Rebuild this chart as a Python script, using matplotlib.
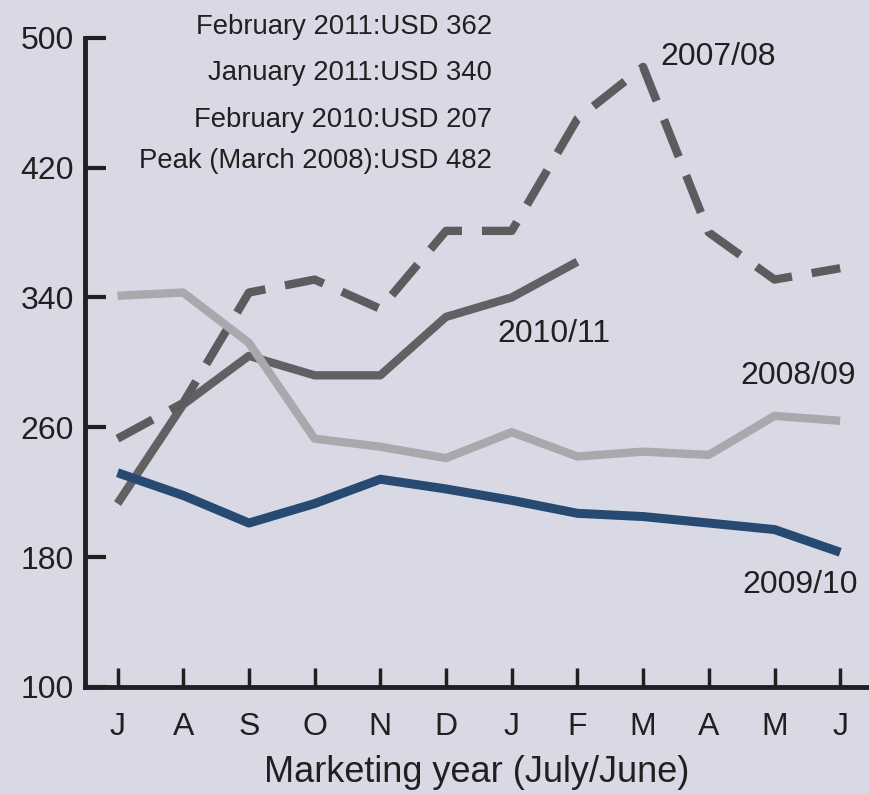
import matplotlib
matplotlib.use('Agg')
import matplotlib.pyplot as plt
from matplotlib import font_manager as fm

months = ['J', 'A', 'S', 'O', 'N', 'D', 'J', 'F', 'M', 'A', 'M', 'J']
s2007_08 = [253, 275, 343, 351, 333, 381, 381, 450, 482, 380, 351, 358]
s2008_09 = [341, 343, 312, 253, 248, 241, 257, 242, 245, 243, 267, 264]
s2009_10 = [232, 218, 201, 213, 228, 222, 215, 207, 205, 201, 197, 183]
s2010_11 = [213, 274, 304, 292, 292, 328, 340, 362]
yticks = [100, 180, 260, 340, 420, 500]
notes = ['February 2011:USD 362', 'January 2011:USD 340',
         'February 2010:USD 207', 'Peak (March 2008):USD 482']

names = {f.name for f in fm.fontManager.ttflist}
fam = 'Liberation Sans Narrow' if 'Liberation Sans Narrow' in names else 'Liberation Sans'
plt.rcParams['font.family'] = [fam, 'DejaVu Sans']

BG = '#d8d9e4'
INK = '#231f20'
W, H = 869, 794
fig = plt.figure(figsize=(W / 100, H / 100), dpi=100, facecolor=BG)

left_px, right_px, top_px, bot_px = 85, 869, 37.7, 687
ax = fig.add_axes([left_px / W, 1 - bot_px / H, (right_px - left_px) / W, (bot_px - top_px) / H])
ax.set_facecolor(BG)

x = list(range(len(months)))
x0 = (left_px - 117.5) / 65.7
x1 = (right_px - 117.5) / 65.7
ax.set_xlim(x0, x1)
ax.set_ylim(100, 500)

ax.plot(x[:len(s2010_11)], s2010_11, color='#616164', lw=6.0, solid_capstyle='butt', zorder=2)
ax.plot(x, s2007_08, color='#5c5c5f', lw=6.0, dashes=(4.8, 2.4), dash_capstyle='butt', zorder=3)
ax.plot(x, s2008_09, color='#a8a9ad', lw=6.0, solid_capstyle='butt', zorder=4)
ax.plot(x, s2009_10, color='#284a72', lw=6.5, solid_capstyle='butt', zorder=5)

for s in ['top', 'right']:
    ax.spines[s].set_visible(False)
for s in ['left', 'bottom']:
    ax.spines[s].set_linewidth(3.5)
    ax.spines[s].set_color(INK)
ax.spines['left'].set_bounds(100, 500)

ax.set_yticks(yticks)
ax.set_yticklabels([str(v) for v in yticks])
ax.set_xticks(x)
ax.set_xticklabels(months)
ax.tick_params(axis='y', direction='in', length=15, width=3, color=INK,
               labelsize=23, labelcolor=INK, pad=8)
ax.tick_params(axis='x', direction='in', length=14, width=2.5, color=INK,
               labelsize=23, labelcolor=INK, pad=18)
ax.set_xlabel('Marketing year (July/June)', fontsize=26, color=INK, labelpad=9)

note_y = [27, 73, 120, 161]
for t, yy in zip(notes, note_y):
    fig.text(492 / W, 1 - yy / H, t, ha='right', va='center', fontsize=19.8, color=INK)

labels = [('2007/08', 660, 57), ('2010/11', 497, 334), ('2008/09', 740, 376), ('2009/10', 742, 585)]
for t, px, py in labels:
    fig.text(px / W, 1 - py / H, t, ha='left', va='center', fontsize=23, color=INK)

fig.savefig('out.png', dpi=100, facecolor=BG)
